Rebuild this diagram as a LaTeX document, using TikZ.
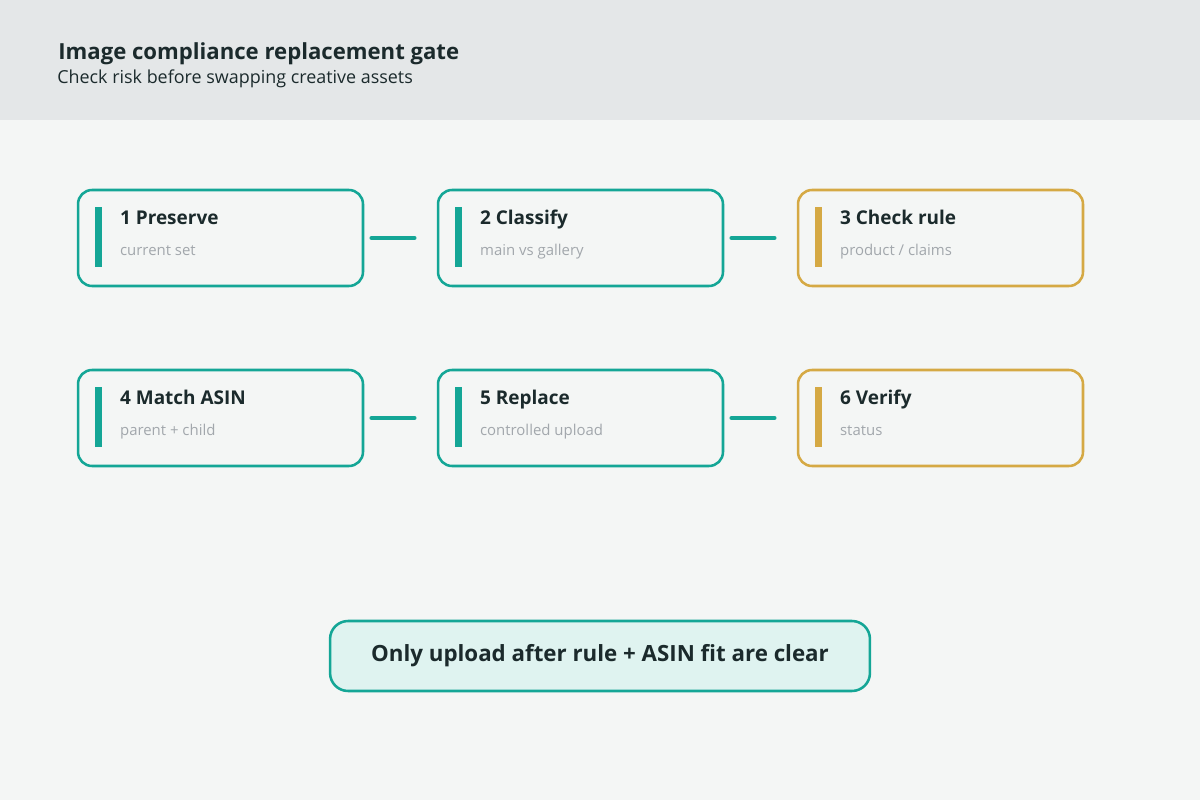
\documentclass[tikz,border=0pt]{standalone}
\usepackage{fontspec}
\setmainfont{Open Sans}
\usepackage{tikz}
\usetikzlibrary{positioning, calc}
\definecolor{gateTeal}{HTML}{14A696}
\definecolor{gateGold}{HTML}{D5A944}
\definecolor{gateInk}{HTML}{1B2A2C}
\definecolor{gateMuted}{HTML}{A2A7AC}
\definecolor{gateBand}{HTML}{E4E7E8}
\definecolor{gatePage}{HTML}{F4F6F5}
\definecolor{gateMint}{HTML}{DFF3F0}

\tikzset{
  stepbox/.style={draw=#1, line width=1.45pt, rounded corners=0.28cm,
    minimum width=5.7cm, minimum height=1.92cm, inner sep=0pt},
  steptitle/.style={font=\fontsize{10.8}{12}\selectfont\bfseries, text=gateInk, anchor=base west, inner sep=0pt},
  stepnote/.style={font=\fontsize{8.5}{10}\selectfont, text=gateMuted, anchor=base west, inner sep=0pt},
  link/.style={draw=gateTeal, line width=2pt, line cap=round, shorten <=0.14cm, shorten >=0.44cm},
}

\begin{document}
\begin{tikzpicture}[x=0.02cm, y=-0.02cm]
  \useasboundingbox (0,0) rectangle (1200,800);
  \fill[gatePage] (0,0) rectangle (1200,800);
  \fill[gateBand] (0,0) rectangle (1200,120);
  % header
  \node[font=\fontsize{12.6}{14}\selectfont\bfseries, text=gateInk, anchor=base west, inner sep=0pt] (title) at (58,60) {Image compliance replacement gate};
  \node[font=\fontsize{10.2}{12}\selectfont, text=gateInk, anchor=base west, inner sep=0pt] (subtitle) at (57,84) {Check risk before swapping creative assets};
  % row 1
  \node[stepbox=gateTeal] (s1) at (220.5,238) {};
  \node[stepbox=gateTeal] (s2) at (580.5,238) {};
  \node[stepbox=gateGold] (s3) at (940.5,238) {};
  % row 2
  \node[stepbox=gateTeal] (s4) at (220.5,418) {};
  \node[stepbox=gateTeal] (s5) at (580.5,418) {};
  \node[stepbox=gateGold] (s6) at (940.5,418) {};
  % accent bars and labels
  \foreach \s/\c/\t/\n in {s1/gateTeal/1 Preserve/current set, s2/gateTeal/2 Classify/main vs gallery,
      s3/gateGold/3 Check rule/{product / claims}, s4/gateTeal/4 Match ASIN/parent + child,
      s5/gateTeal/5 Replace/controlled upload, s6/gateGold/6 Verify/status} {
    \fill[\c] ($(\s.north west)+(18,18)$) rectangle ++(7,60);
    \node[steptitle] (\s t) at ($(\s.north west)+(43,36)$) {\t};
    \node[stepnote] (\s n) at ($(\s.north west)+(43,67)$) {\n};
  }
  \draw[link] (s1.east) -- (s2.west);
  \draw[link] (s2.east) -- (s3.west);
  \draw[link] (s4.east) -- (s5.west);
  \draw[link] (s5.east) -- (s6.west);
  % gate note
  \node[draw=gateTeal, fill=gateMint, line width=1.45pt, rounded corners=0.36cm,
    minimum width=10.8cm, minimum height=1.4cm, inner sep=0pt,
    font=\fontsize{12.7}{14}\selectfont\bfseries, text=gateInk] (gate) at (600,656) {Only upload after rule + ASIN fit are clear};
\end{tikzpicture}
\end{document}
